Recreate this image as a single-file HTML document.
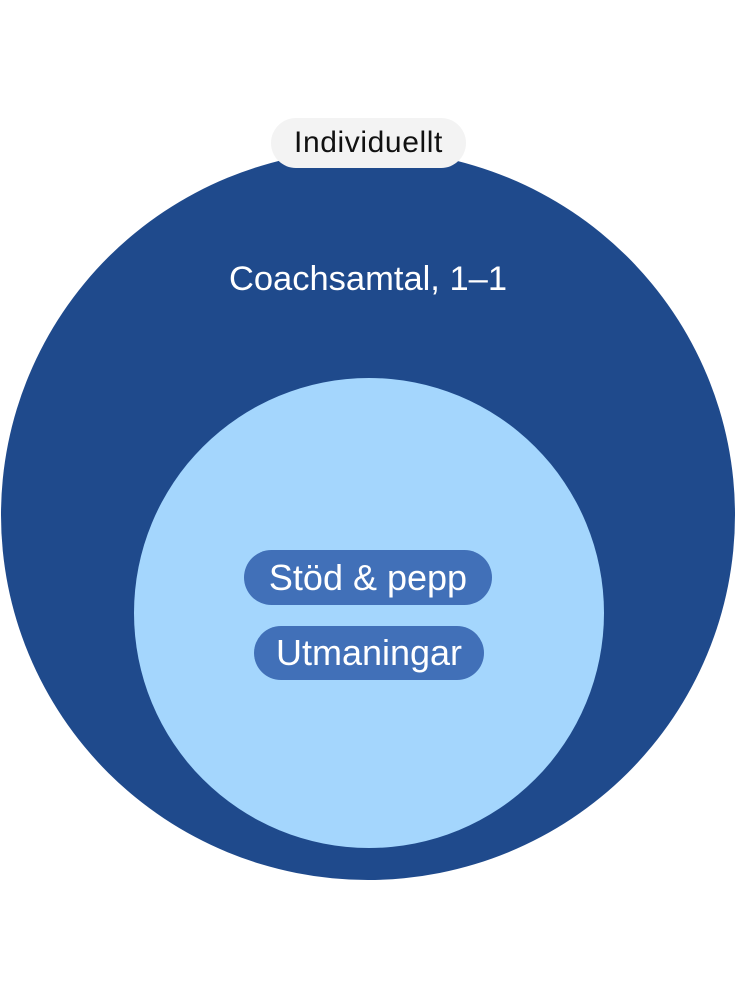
<!DOCTYPE html>
<html><head><meta charset="utf-8"><style>
html,body{margin:0;padding:0;background:#fff;}
body{width:736px;height:1000px;position:relative;overflow:hidden;font-family:"Liberation Sans",sans-serif;}
.c{position:absolute;border-radius:50%;}
.pill{position:absolute;border-radius:28px;display:flex;align-items:center;justify-content:center;}
</style></head><body>
<div class="c" style="left:1px;top:150px;width:734px;height:730px;background:#1f4a8c;"></div>
<div class="c" style="left:134px;top:378px;width:470px;height:470px;background:#a4d6fd;"></div>
<div class="pill" style="left:271px;top:118px;width:195px;height:50px;background:#f3f3f3;color:#111;font-size:30px;letter-spacing:0.6px;">Individuellt</div>
<div style="position:absolute;left:0;width:736px;top:259px;text-align:center;color:#fff;font-size:34.5px;line-height:40px;">Coachsamtal, 1–1</div>
<div class="pill" style="left:244px;top:550px;width:248px;height:55px;background:#4170b8;color:#fff;font-size:36px;">Stöd &amp; pepp</div>
<div class="pill" style="left:254px;top:626px;width:230px;height:54px;background:#4170b8;color:#fff;font-size:36px;">Utmaningar</div>
</body></html>
